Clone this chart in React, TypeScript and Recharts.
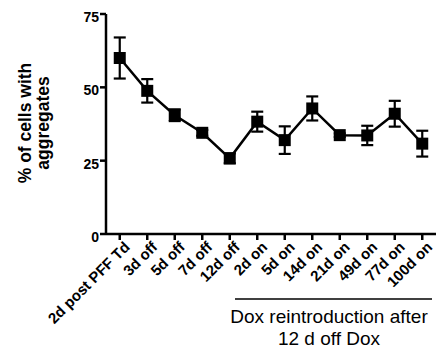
import React from 'react';
import { LineChart, Line, XAxis, YAxis, ErrorBar } from 'recharts';

const categories = [
  '2d post PFF Td', '3d off', '5d off', '7d off', '12d off',
  '2d on', '5d on', '14d on', '21d on', '49d on', '77d on', '100d on',
];
const means = [60, 48.8, 40.5, 34.5, 25.8, 38.3, 32, 42.8, 33.7, 33.6, 41, 30.8];
const errors = [7, 4, 2, 1, 1.7, 3.4, 4.7, 4.1, 0.6, 3.3, 4.4, 4.4];
const yTicks = [0, 25, 50, 75];
const yLabelLines = ['% of cells with', 'aggregates'];
const noteLines = ['Dox reintroduction after', '12 d off Dox'];

const data = categories.map((c, i) => ({ name: c, value: means[i], err: errors[i] }));

const FONT = '"Liberation Sans", Arial, Helvetica, sans-serif';

const SquareDot = (props: any) => {
  const { cx, cy } = props;
  if (cx == null || cy == null) return null;
  return <rect x={cx - 6} y={cy - 6} width={12} height={12} fill="#000" />;
};

const XTick = (props: any) => {
  const { x, y, payload } = props;
  const ax = x + 11;
  const ay = y + 6;
  return (
    <text
      x={ax}
      y={ay}
      textAnchor="end"
      transform={`rotate(-45, ${ax}, ${ay})`}
      fontFamily={FONT}
      fontWeight="bold"
      fontSize={15}
      fill="#000"
    >
      {payload.value}
    </text>
  );
};

const YTick = (props: any) => {
  const { x, y, payload } = props;
  return (
    <text
      x={x}
      y={y + 8}
      textAnchor="end"
      fontFamily={FONT}
      fontWeight="bold"
      fontSize={14}
      fill="#000"
    >
      {payload.value}
    </text>
  );
};

export default function App() {
  return (
    <div style={{ position: 'absolute', left: 0, top: 0, width: 440, height: 354, background: '#fff' }}>
      <LineChart
        width={440}
        height={354}
        data={data}
        margin={{ top: 14, right: 4, bottom: 20, left: 0 }}
      >
        <XAxis
          dataKey="name"
          scale="band"
          interval={0}
          height={100}
          tickSize={6}
          tickMargin={2}
          axisLine={{ stroke: '#000', strokeWidth: 2.5 }}
          tickLine={{ stroke: '#000', strokeWidth: 2.5 }}
          tick={<XTick />}
        />
        <YAxis
          domain={[0, 75]}
          ticks={yTicks}
          width={106}
          tickSize={6}
          tickMargin={1}
          axisLine={{ stroke: '#000', strokeWidth: 2.5 }}
          tickLine={{ stroke: '#000', strokeWidth: 2.5 }}
          tick={<YTick />}
        />
        <Line
          type="linear"
          dataKey="value"
          stroke="#000"
          strokeWidth={2.5}
          dot={<SquareDot />}
          activeDot={false}
          isAnimationActive={false}
        >
          <ErrorBar dataKey="err" width={6} stroke="#000" strokeWidth={2.2} direction="y" />
        </Line>
      </LineChart>
      <svg
        width={440}
        height={354}
        style={{ position: 'absolute', left: 0, top: 0, pointerEvents: 'none' }}
      >
        <g transform="translate(0, 123) rotate(-90)">
          <text x={0} y={31} textAnchor="middle" fontFamily={FONT} fontWeight="bold" fontSize={17.5} fill="#000">
            {yLabelLines[0]}
          </text>
          <text x={0} y={49} textAnchor="middle" fontFamily={FONT} fontWeight="bold" fontSize={17.5} fill="#000">
            {yLabelLines[1]}
          </text>
        </g>
        <line x1={235} x2={432} y1={299} y2={299} stroke="#000" strokeWidth={1.6} />
        <text x={329} y={323} textAnchor="middle" fontFamily={FONT} fontSize={19} fill="#000">
          {noteLines[0]}
        </text>
        <text x={329} y={345} textAnchor="middle" fontFamily={FONT} fontSize={19} fill="#000">
          {noteLines[1]}
        </text>
      </svg>
    </div>
  );
}
